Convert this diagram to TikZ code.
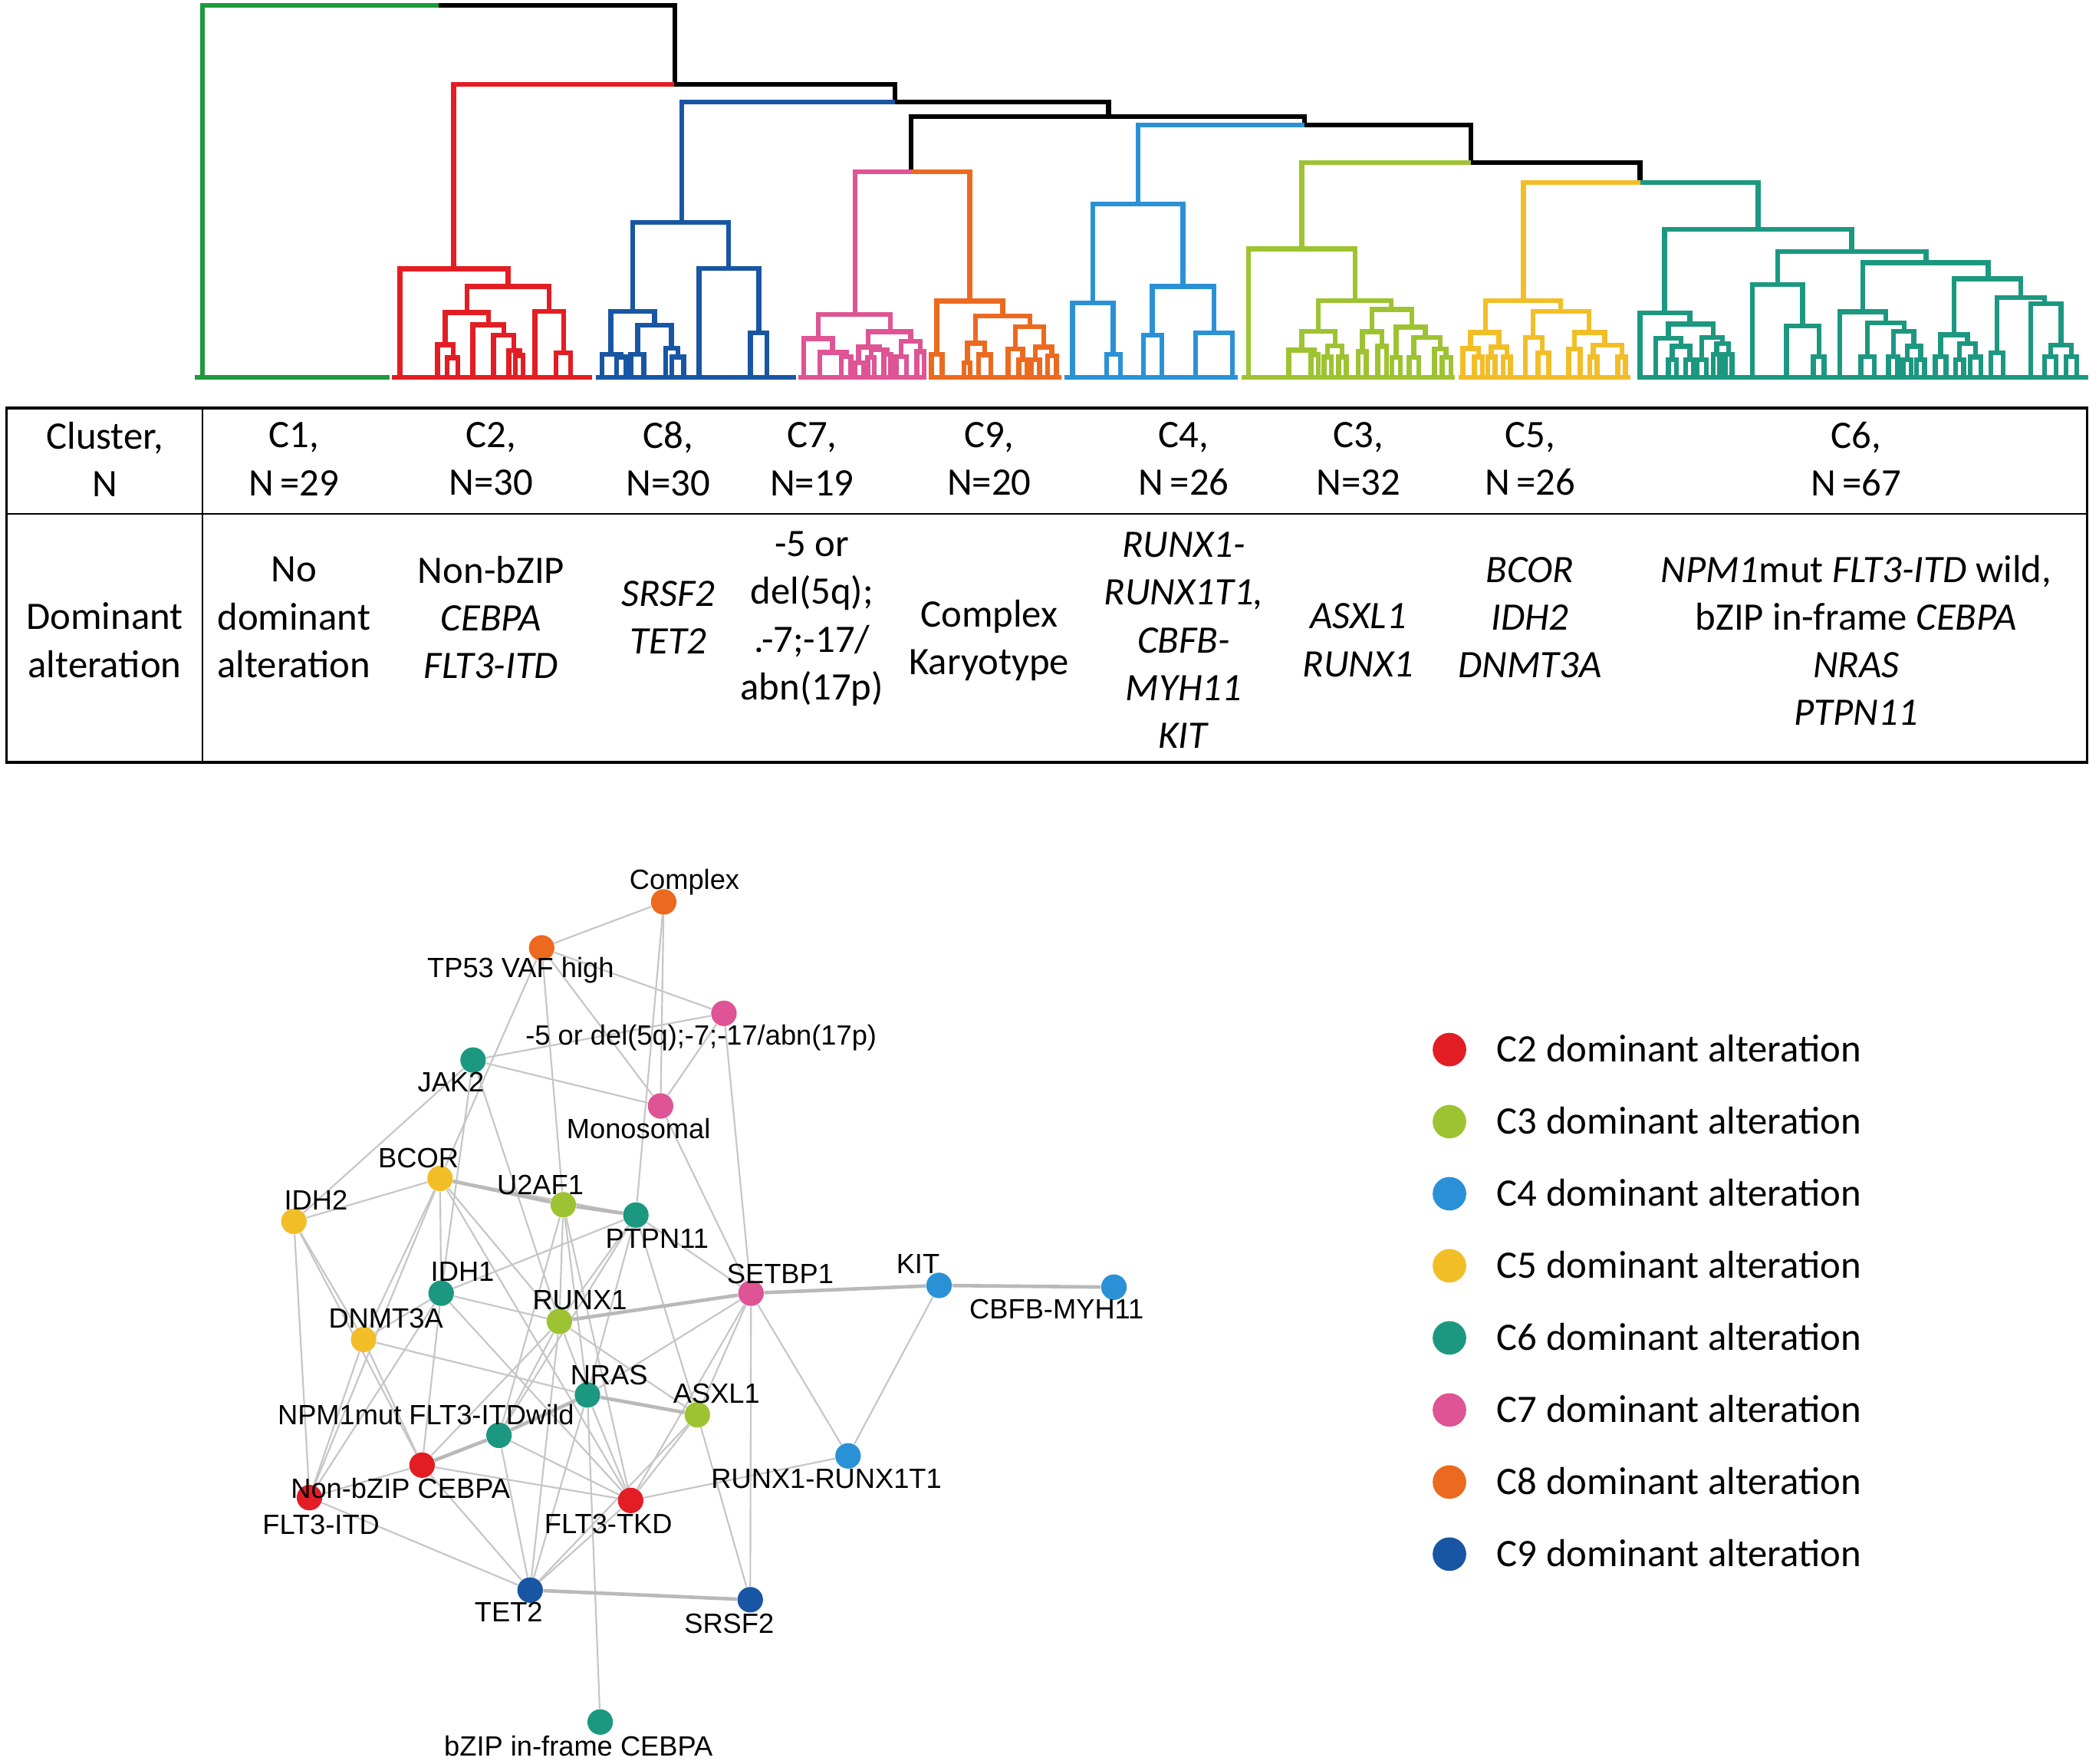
\documentclass[tikz,border=0pt]{standalone}
\usepackage{fontspec}
\setmainfont{Carlito}
\newfontfamily\netfont{Liberation Sans}
\usetikzlibrary{backgrounds}
\definecolor{cgreen}{RGB}{30,154,60}
\definecolor{cred}{RGB}{226,30,36}
\definecolor{clime}{RGB}{158,195,50}
\definecolor{clblue}{RGB}{43,145,214}
\definecolor{cyellow}{RGB}{242,190,40}
\definecolor{cteal}{RGB}{28,152,128}
\definecolor{cpink}{RGB}{222,84,148}
\definecolor{corange}{RGB}{236,106,32}
\definecolor{cdblue}{RGB}{24,86,164}
% one merge of the tree: left x, right x, bar height, left foot, right foot
\newcommand\lnk[5]{(#1,#4)--(#1,#3)--(#2,#3)--(#2,#5)}
\begin{document}
\begin{tikzpicture}[x=0.2mm,y=-0.2mm,line join=miter]
\tikzset{tree/.style={line width=2.1pt},
  cell/.style={align=center,inner sep=0pt,font=\fontsize{16.5}{20.2}\selectfont},
  gn/.style={circle,fill=#1,minimum size=3.8mm,inner sep=0pt},
  lab/.style={inner sep=0pt,font=\netfont\fontsize{11.8}{13}\selectfont},
  edge/.style={draw=gray!45,line width=0.7pt},
  bold/.style={draw=gray!55,line width=1.5pt},
  key/.style={circle,fill=#1,minimum size=5mm,inner sep=0pt}}
\useasboundingbox (0,0) rectangle (1564,1314);

% dendrogram, upper merges
\draw[tree,cgreen] (151,281)--(151,4)--(327,4);
\draw[tree] (327,4)--(503,4)--(503,63);
\draw[tree,cred] (338,200.4)--(338,63)--(502.5,63);
\draw[tree] (502.5,63)--(667,63)--(667,76);
\draw[tree,cdblue] (508,165.7)--(508,76)--(667,76);
\draw[tree] (667,76)--(826,76)--(826,87);
\draw[tree] \lnk{679}{972}{87}{128}{93};
\draw[tree,cpink] (637,234.3)--(637,128)--(679.5,128);
\draw[tree,corange] (679.5,128)--(722.5,128)--(722.5,224.4);
\draw[tree,clblue] (848,152)--(848,93)--(972,93);
\draw[tree] (972,93)--(1096,93)--(1096,121);
\draw[tree,clime] (970,185.5)--(970,121)--(1096,121);
\draw[tree] (1096,121)--(1222,121)--(1222,136);
\draw[tree,cyellow] (1135,223.9)--(1135,136)--(1222.5,136);
\draw[tree,cteal] (1222.5,136)--(1310,136)--(1310,170.9);

% C1
\draw[tree,cgreen] (145,281)--(290,281);
% C2
\draw[tree,cred] (292,281)--(441,281);
\foreach \a/\b/\h/\p/\q in {298/378.6/200.4/281/213.4, 348/409.2/213.4/232.8/232,
  331.6/363.9/232.8/256.8/242, 325.9/337.7/256.8/281/266.7, 333/341.2/266.7/281/281,
  352.4/375.5/242/281/249.6, 367.8/383/249.6/281/261, 379.2/387.1/261/281/264.8,
  384.1/389.8/264.8/281/281, 398.6/420/232/281/263, 414.3/425.1/263/281/281}
  \draw[tree,cred] \lnk{\a}{\b}{\h}{\p}{\q};
% C8
\draw[tree,cdblue] (444,281)--(593,281);
\foreach \a/\b/\h/\p/\q in {471.4/542.9/165.7/232/200, 455.1/487.8/232/263.9/242.3,
  448.6/463/263.9/281/266, 459.5/466.5/266/281/281, 475.1/500.4/242.3/263.9/259.5,
  470/479.6/263.9/281/281, 496/505.1/259.5/281/266, 500.5/509.5/266/281/281,
  520.8/565.3/200/281/248, 559.2/571.4/248/281/281}
  \draw[tree,cdblue] \lnk{\a}{\b}{\h}{\p}{\q};
% C7
\draw[tree,cpink] (595,281)--(690,281);
\foreach \a/\b/\h/\p/\q in {609.6/663.3/234.3/252.4/247.1, 598.8/620.4/252.4/281/262.5,
  611/630.6/262.5/281/265.8, 627/634/265.8/281/281, 647/678.6/247.1/258.7/254.3,
  639.6/655.1/258.7/270.2/260.6, 637.2/643.3/270.2/281/281, 649/661.2/260.6/266.4/264,
  646.5/651.5/266.4/281/281, 658.6/663.8/264/281/281, 671.4/685.7/254.3/265.8/262,
  667.8/675.5/265.8/281/281, 683.1/688.6/262/281/281}
  \draw[tree,cpink] \lnk{\a}{\b}{\h}{\p}{\q};
% C9
\draw[tree,corange] (692,281)--(791,281);
\foreach \a/\b/\h/\p/\q in {698/747/224.4/263.9/235.3, 694/702/263.9/281/281,
  727/767.4/235.3/255.7/243.3, 720.8/733.7/255.7/270.2/264.4, 718.2/722.9/270.2/281/281,
  729/738.2/264.4/281/281, 756.6/777.6/243.3/260/258.7, 751/762/260/281/268,
  759/765/268/281/281, 771.5/783.7/258.7/268/265, 768.5/774.5/268/281/281,
  780.5/787/265/281/281}
  \draw[tree,corange] \lnk{\a}{\b}{\h}{\p}{\q};
% C4
\draw[tree,clblue] (793,281)--(922,281);
\foreach \a/\b/\h/\p/\q in {814.4/881.5/152/225.8/213.4, 799/829.4/225.8/281/263.9,
  824.5/834.7/263.9/281/281, 858.6/904.5/213.4/249.6/248, 851.9/865.8/249.6/281/281,
  890.7/918.4/248/281/281}
  \draw[tree,clblue] \lnk{\a}{\b}{\h}{\p}{\q};
% C3
\draw[tree,clime] (925,281)--(1084,281);
\foreach \a/\b/\h/\p/\q in {930.4/1009.7/185.5/281/224.1, 982.2/1036.5/224.1/246.9/230.5,
  970.1/994.9/246.9/260.9/257.7, 960.4/979.4/260.9/281/264.3, 976.9/982.2/264.3/281/281,
  989.2/1000.1/257.7/266/266, 986.5/992/266/281/281, 997.5/1003/266/281/281,
  1022.3/1051.9/230.5/247.2/243.8, 1015/1029.7/247.2/262/258, 1012/1018/262/281/281,
  1026.5/1033/258/281/281, 1040.3/1061.9/243.8/266.2/251.4, 1037/1043.5/266.2/281/281,
  1053.4/1073.1/251.4/266.2/260.1, 1050/1057/266.2/281/281, 1068.9/1077.3/260.1/281/266.2,
  1074.5/1081/266.2/281/281}
  \draw[tree,clime] \lnk{\a}{\b}{\h}{\p}{\q};
% C5
\draw[tree,cyellow] (1087,281)--(1215,281);
\foreach \a/\b/\h/\p/\q in {1106.9/1162.9/223.9/247.6/232, 1095.7/1116.8/247.6/259.6/258.6,
  1090/1101.6/259.6/281/266, 1098.5/1104.5/266/281/281, 1111.1/1122.8/258.6/266/266,
  1108.5/1114/266/281/281, 1120/1125.5/266/281/281, 1142.2/1184/232/251.4/247.6,
  1136.5/1149.2/251.4/281/262.8, 1146/1154/262.8/281/281, 1173.1/1195.7/247.6/260.1/257.1,
  1168.8/1177.3/260.1/281/281, 1187.2/1208.4/257.1/266/266, 1184.5/1190/266/281/281,
  1205.5/1211/266/281/281}
  \draw[tree,cyellow] \lnk{\a}{\b}{\h}{\p}{\q};
% C6
\draw[tree,cteal] (1220,281)--(1556,281);
\foreach \a/\b/\h/\p/\q in {1240.3/1379.7/170.9/233/187.4, 1222/1259.1/233/281/241.5,
  1243.2/1276.4/241.5/252/251.4, 1233.7/1252.5/252/281/258, 1246/1259/258/268/268,
  1243/1249/268/281/281, 1256/1262/268/281/281, 1268/1283.5/251.4/268/256,
  1264.5/1271.5/268/281/281, 1279/1288/256/264/264, 1276.5/1281.5/264/281/281,
  1285.5/1290.5/264/281/281, 1324.4/1435/187.4/212.1/195.6, 1305.6/1343.2/212.1/281/243,
  1331/1355.4/243/281/265.8, 1351/1359.1/265.8/281/281, 1387.9/1481.4/195.6/232.4/207.7,
  1370.8/1405.1/232.4/281/240.6, 1391.4/1418.8/240.6/265.8/246.8, 1386.5/1396.5/265.8/281/281,
  1410.7/1426.1/246.8/265.8/258, 1407/1414/265.8/281/281, 1421/1431/258/268/268,
  1418/1424/268/281/281, 1428/1434/268/281/281, 1456/1505.8/207.7/249.5/221.6,
  1446/1466/249.5/265.8/256, 1442/1450/265.8/281/281, 1460/1472/256/268/266,
  1457/1463/268/281/281, 1468/1476/266/281/281, 1488.1/1523.5/221.6/262.8/226.3,
  1483.5/1492.5/262.8/281/281, 1513/1535.6/226.3/281/257.1, 1527.9/1543.4/257.1/265.8/265.8,
  1523.5/1532/265.8/281/281, 1539.5/1547.5/265.8/281/281}
  \draw[tree,cteal] \lnk{\a}{\b}{\h}{\p}{\q};

% table
\draw[line width=1pt] (5,304) rectangle (1555,568);
\draw[line width=0.6pt] (5,383)--(1555,383) (151,304)--(151,568);
\node[cell] (hN) at (78,342) {Cluster,\\N};
\foreach \x/\t in {219/{C1,\\N\,=29}, 366/{C2,\\N=30}, 498/{C8,\\N=30}, 605/{C7,\\N=19},
  737/{C9,\\N=20}, 882/{C4,\\N\,=26}, 1012/{C3,\\N=32}, 1140/{C5,\\N\,=26}, 1383/{C6,\\N\,=67}}
  \node[cell] at (\x,342) {\t};
\node[cell] (hD) at (78,477) {Dominant\\alteration};
\node[cell] (d1) at (219,460) {No\\dominant\\alteration};
\node[cell] (d2) at (366,460) {Non-bZIP\\\textit{CEBPA}\\\textit{FLT3-ITD}};
\node[cell] (d8) at (498,460) {\textit{SRSF2}\\\textit{TET2}};
\node[cell] (d7) at (605,461) {-5 or\\del(5q);\\.-7;-17/\\abn(17p)};
\node[cell] (d9) at (737,477) {Complex\\Karyotype};
\node[cell] (d4) at (882,477) {\textit{RUNX1-}\\\textit{RUNX1T1,}\\\textit{CBFB-}\\\textit{MYH11}\\\textit{KIT}};
\node[cell] (d3) at (1012,477) {\textit{ASXL1}\\\textit{RUNX1}};
\node[cell] (d5) at (1140,460) {\textit{BCOR}\\\textit{IDH2}\\\textit{DNMT3A}};
\node[cell] (d6) at (1383,477) {\textit{NPM1}mut \textit{FLT3-ITD} wild,\\bZIP in-frame \textit{CEBPA}\\\textit{NRAS}\\\textit{PTPN11}};

% network
\node[gn=corange] (cplx) at (494.5,672) {};
\node[gn=corange] (tp53) at (403.6,706.2) {};
\node[gn=cpink] (del5) at (539.4,755) {};
\node[gn=cteal] (jak2) at (352.5,789.8) {};
\node[gn=cpink] (mono) at (492.2,824) {};
\node[gn=cyellow] (bcor) at (327.9,878) {};
\node[gn=cyellow] (idh2) at (219,910) {};
\node[gn=clime] (u2af1) at (419.7,897.6) {};
\node[gn=cteal] (ptpn11) at (473.8,905.3) {};
\node[gn=cteal] (idh1) at (328.7,963.5) {};
\node[gn=cpink] (setbp1) at (559.6,963.5) {};
\node[gn=clblue] (kit) at (699.7,957.7) {};
\node[gn=clblue] (cbfb) at (830,959) {};
\node[gn=clime] (runx1) at (416.8,984.5) {};
\node[gn=cyellow] (dnmt3a) at (270.9,998) {};
\node[gn=cteal] (nras) at (437.7,1039.3) {};
\node[gn=clime] (asxl1) at (519.6,1054.1) {};
\node[gn=cteal] (npm1) at (371.8,1069.4) {};
\node[gn=cred] (nonbzip) at (314.5,1091.6) {};
\node[gn=cred] (itd) at (230.6,1115.8) {};
\node[gn=cred] (tkd) at (469.9,1117.9) {};
\node[gn=clblue] (rrt) at (631.9,1084.7) {};
\node[gn=cdblue] (tet2) at (395,1184.7) {};
\node[gn=cdblue] (srsf2) at (559,1191.9) {};
\node[gn=cteal] (bzip) at (447.2,1283) {};

\begin{scope}[on background layer]
\foreach \a/\b in {cplx/tp53, cplx/mono, cplx/ptpn11, tp53/del5, tp53/mono, tp53/u2af1,
  tp53/bcor, del5/jak2, del5/mono, del5/setbp1, jak2/mono, jak2/idh2, jak2/idh1, jak2/runx1,
  mono/setbp1, bcor/idh2, bcor/ptpn11, bcor/idh1, bcor/dnmt3a, bcor/runx1, bcor/tkd,
  idh2/dnmt3a, idh2/itd, idh2/nonbzip, u2af1/runx1, u2af1/nras, u2af1/tkd, u2af1/npm1,
  ptpn11/idh1, ptpn11/runx1, ptpn11/nras, ptpn11/setbp1, ptpn11/asxl1, ptpn11/npm1,
  idh1/runx1, idh1/dnmt3a, idh1/nonbzip, idh1/itd, idh1/tkd, runx1/nras, runx1/asxl1,
  runx1/npm1, runx1/nonbzip, runx1/tet2, dnmt3a/itd, dnmt3a/nras, dnmt3a/nonbzip,
  nras/setbp1, nras/tkd, nras/tet2, nras/bzip, asxl1/setbp1, asxl1/srsf2, asxl1/tkd,
  asxl1/tet2, setbp1/rrt, setbp1/srsf2, setbp1/tkd, kit/rrt, rrt/tkd, tkd/nonbzip,
  tkd/npm1, tkd/tet2, tet2/itd, tet2/nonbzip, tet2/npm1, nonbzip/itd, itd/bcor}
  \draw[edge] (\a)--(\b);
\foreach \a/\b in {bcor/u2af1, u2af1/ptpn11, runx1/setbp1, setbp1/kit, kit/cbfb,
  tet2/srsf2, nras/npm1, npm1/nonbzip, nras/asxl1}
  \draw[bold] (\a)--(\b);
\end{scope}

\foreach \x/\y/\t in {510/657/Complex, 387.9/723/TP53 VAF high,
  522.4/773/-5 or del(5q);-7;-17\slash abn(17p), 336/806/JAK2, 475.8/840.7/Monosomal,
  311.8/862.6/BCOR, 235.4/894/IDH2, 402.6/883/U2AF1, 489.6/922.8/PTPN11,
  344.6/947.5/IDH1, 581.4/949/SETBP1, 684/941.9/KIT, 787.3/975.5/CBFB-MYH11,
  432/968.4/RUNX1, 287.5/982/DNMT3A, 453.8/1024.5/NRAS, 533.9/1038/ASXL1,
  317.3/1054.1/NPM1mut FLT3-ITDwild, 298.4/1108.7/Non-bZIP CEBPA, 239.2/1136.2/FLT3-ITD,
  453.3/1135.7/FLT3-TKD, 615.8/1101.8/RUNX1-RUNX1T1, 379/1201.3/TET2,
  543.3/1209.7/SRSF2, 431/1300.8/bZIP in-frame CEBPA}
  \node[lab] at (\x,\y) {\t};

% legend
\foreach \i/\c/\t in {0/cred/C2, 1/clime/C3, 2/clblue/C4, 3/cyellow/C5, 4/cteal/C6,
  5/cpink/C7, 6/corange/C8, 7/cdblue/C9} {
  \node[key=\c] (k\i) at (1080,{782+53.7*\i}) {};
  \node[cell,anchor=base west] at (1115,{791+53.7*\i}) {\t{} dominant alteration};
}
\end{tikzpicture}
\end{document}
